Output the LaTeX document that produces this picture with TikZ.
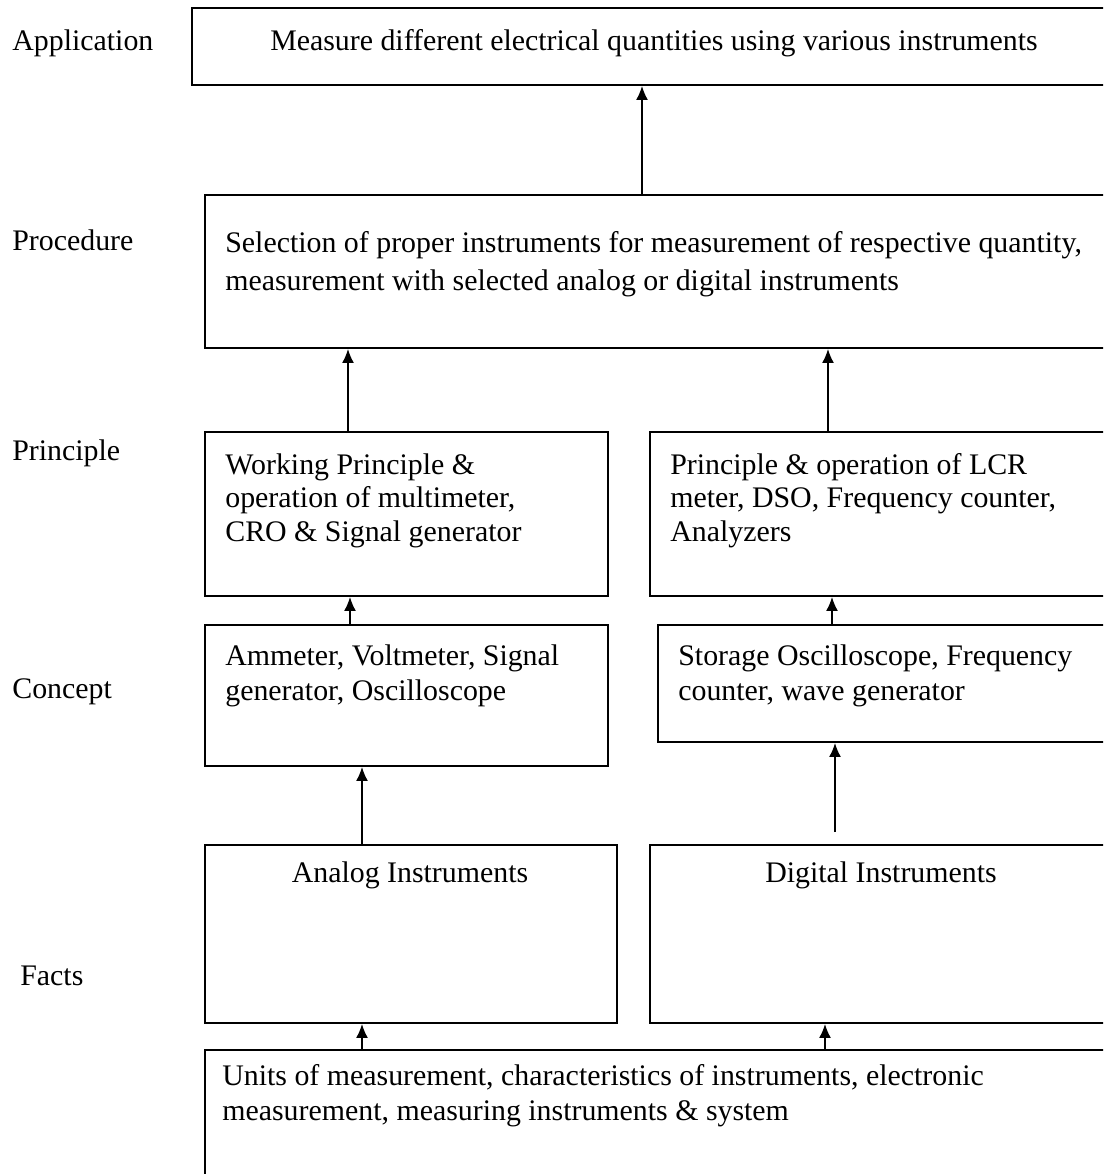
\documentclass[tikz,border=0pt]{standalone}
\usepackage{fontspec}
\setmainfont{Liberation Serif}
\usetikzlibrary{fit,arrows.meta}
\begin{document}
\begin{tikzpicture}
	[x=0.02cm,y=-0.02cm,
	 box/.style={draw,line width=1.1pt,inner sep=0pt},
	 txt/.style={anchor=base west,inner sep=0pt,align=left,font=\fontsize{17}{19.5}\selectfont},
	 lbl/.style={anchor=base west,inner sep=0pt,font=\fontsize{17}{19.5}\selectfont},
	 arr/.style={line width=0.9pt,-{Latex[length=2.8mm,width=2.4mm]}}]
    \useasboundingbox (0,0) rectangle (1103,1174);
    \clip (0,0) rectangle (1103,1174);
    % level labels
    \node[lbl] (lapp) at (12,50) {Application};
    \node[lbl] (lproc) at (12,250) {Procedure};
    \node[lbl] (lprin) at (12,460) {Principle};
    \node[lbl] (lcon) at (12,698) {Concept};
    \node[lbl] (lfact) at (20,985) {Facts};
    % boxes
    \node[box,fit={(192,8) (1130,85)}] (app) {};
    \node[box,fit={(205,195) (1130,348)}] (proc) {};
    \node[box,fit={(205,432) (608,596)}] (prinA) {};
    \node[box,fit={(650,432) (1130,596)}] (prinD) {};
    \node[box,fit={(205,625) (608,766)}] (conA) {};
    \node[box,fit={(658,625) (1130,742)}] (conD) {};
    \node[box,fit={(205,845) (617,1023)}] (anal) {};
    \node[box,fit={(650,845) (1130,1023)}] (digi) {};
    \node[box,fit={(205,1050) (1130,1200)}] (fact) {};
    % box texts (base = last line)
    \node[lbl,anchor=base] (tapp) at (654,50) {Measure different electrical quantities using various instruments};
    \node[txt,font=\fontsize{17}{21.5}\selectfont] (tproc) at (225,290) {Selection of proper instruments for measurement of respective quantity,\\measurement with selected analog or digital instruments};
    \node[txt,font=\fontsize{17}{18.8}\selectfont] (tprinA) at (225,541) {Working Principle \&\\operation of multimeter,\\CRO \& Signal generator};
    \node[txt,font=\fontsize{17}{18.8}\selectfont] (tprinD) at (670,541) {Principle \& operation of LCR\\meter, DSO, Frequency counter,\\Analyzers};
    \node[txt] (tconA) at (225,700) {Ammeter, Voltmeter, Signal\\generator, Oscilloscope};
    \node[txt] (tconD) at (678,700) {Storage Oscilloscope, Frequency\\counter, wave generator};
    \node[lbl,anchor=base] (tanal) at (410,882) {Analog Instruments};
    \node[lbl,anchor=base] (tdigi) at (881,882) {Digital Instruments};
    \node[txt] (tfact) at (222,1120) {Units of measurement, characteristics of instruments, electronic\\measurement, measuring instruments \& system};
    % connectors
    \draw[arr] (proc.north -| 642,0) -- (app.south -| 642,0);
    \draw[arr] (prinA.north -| 348,0) -- (proc.south -| 348,0);
    \draw[arr] (prinD.north -| 828,0) -- (proc.south -| 828,0);
    \draw[arr] (conA.north -| 350,0) -- (prinA.south -| 350,0);
    \draw[arr] (conD.north -| 832,0) -- (prinD.south -| 832,0);
    \draw[arr] (anal.north -| 362,0) -- (conA.south -| 362,0);
    \draw[arr,shorten <=0.24cm] (digi.north -| 835,0) -- (conD.south -| 835,0);
    \draw[arr] (fact.north -| 362,0) -- (anal.south -| 362,0);
    \draw[arr] (fact.north -| 825,0) -- (digi.south -| 825,0);
\end{tikzpicture}
\end{document}
